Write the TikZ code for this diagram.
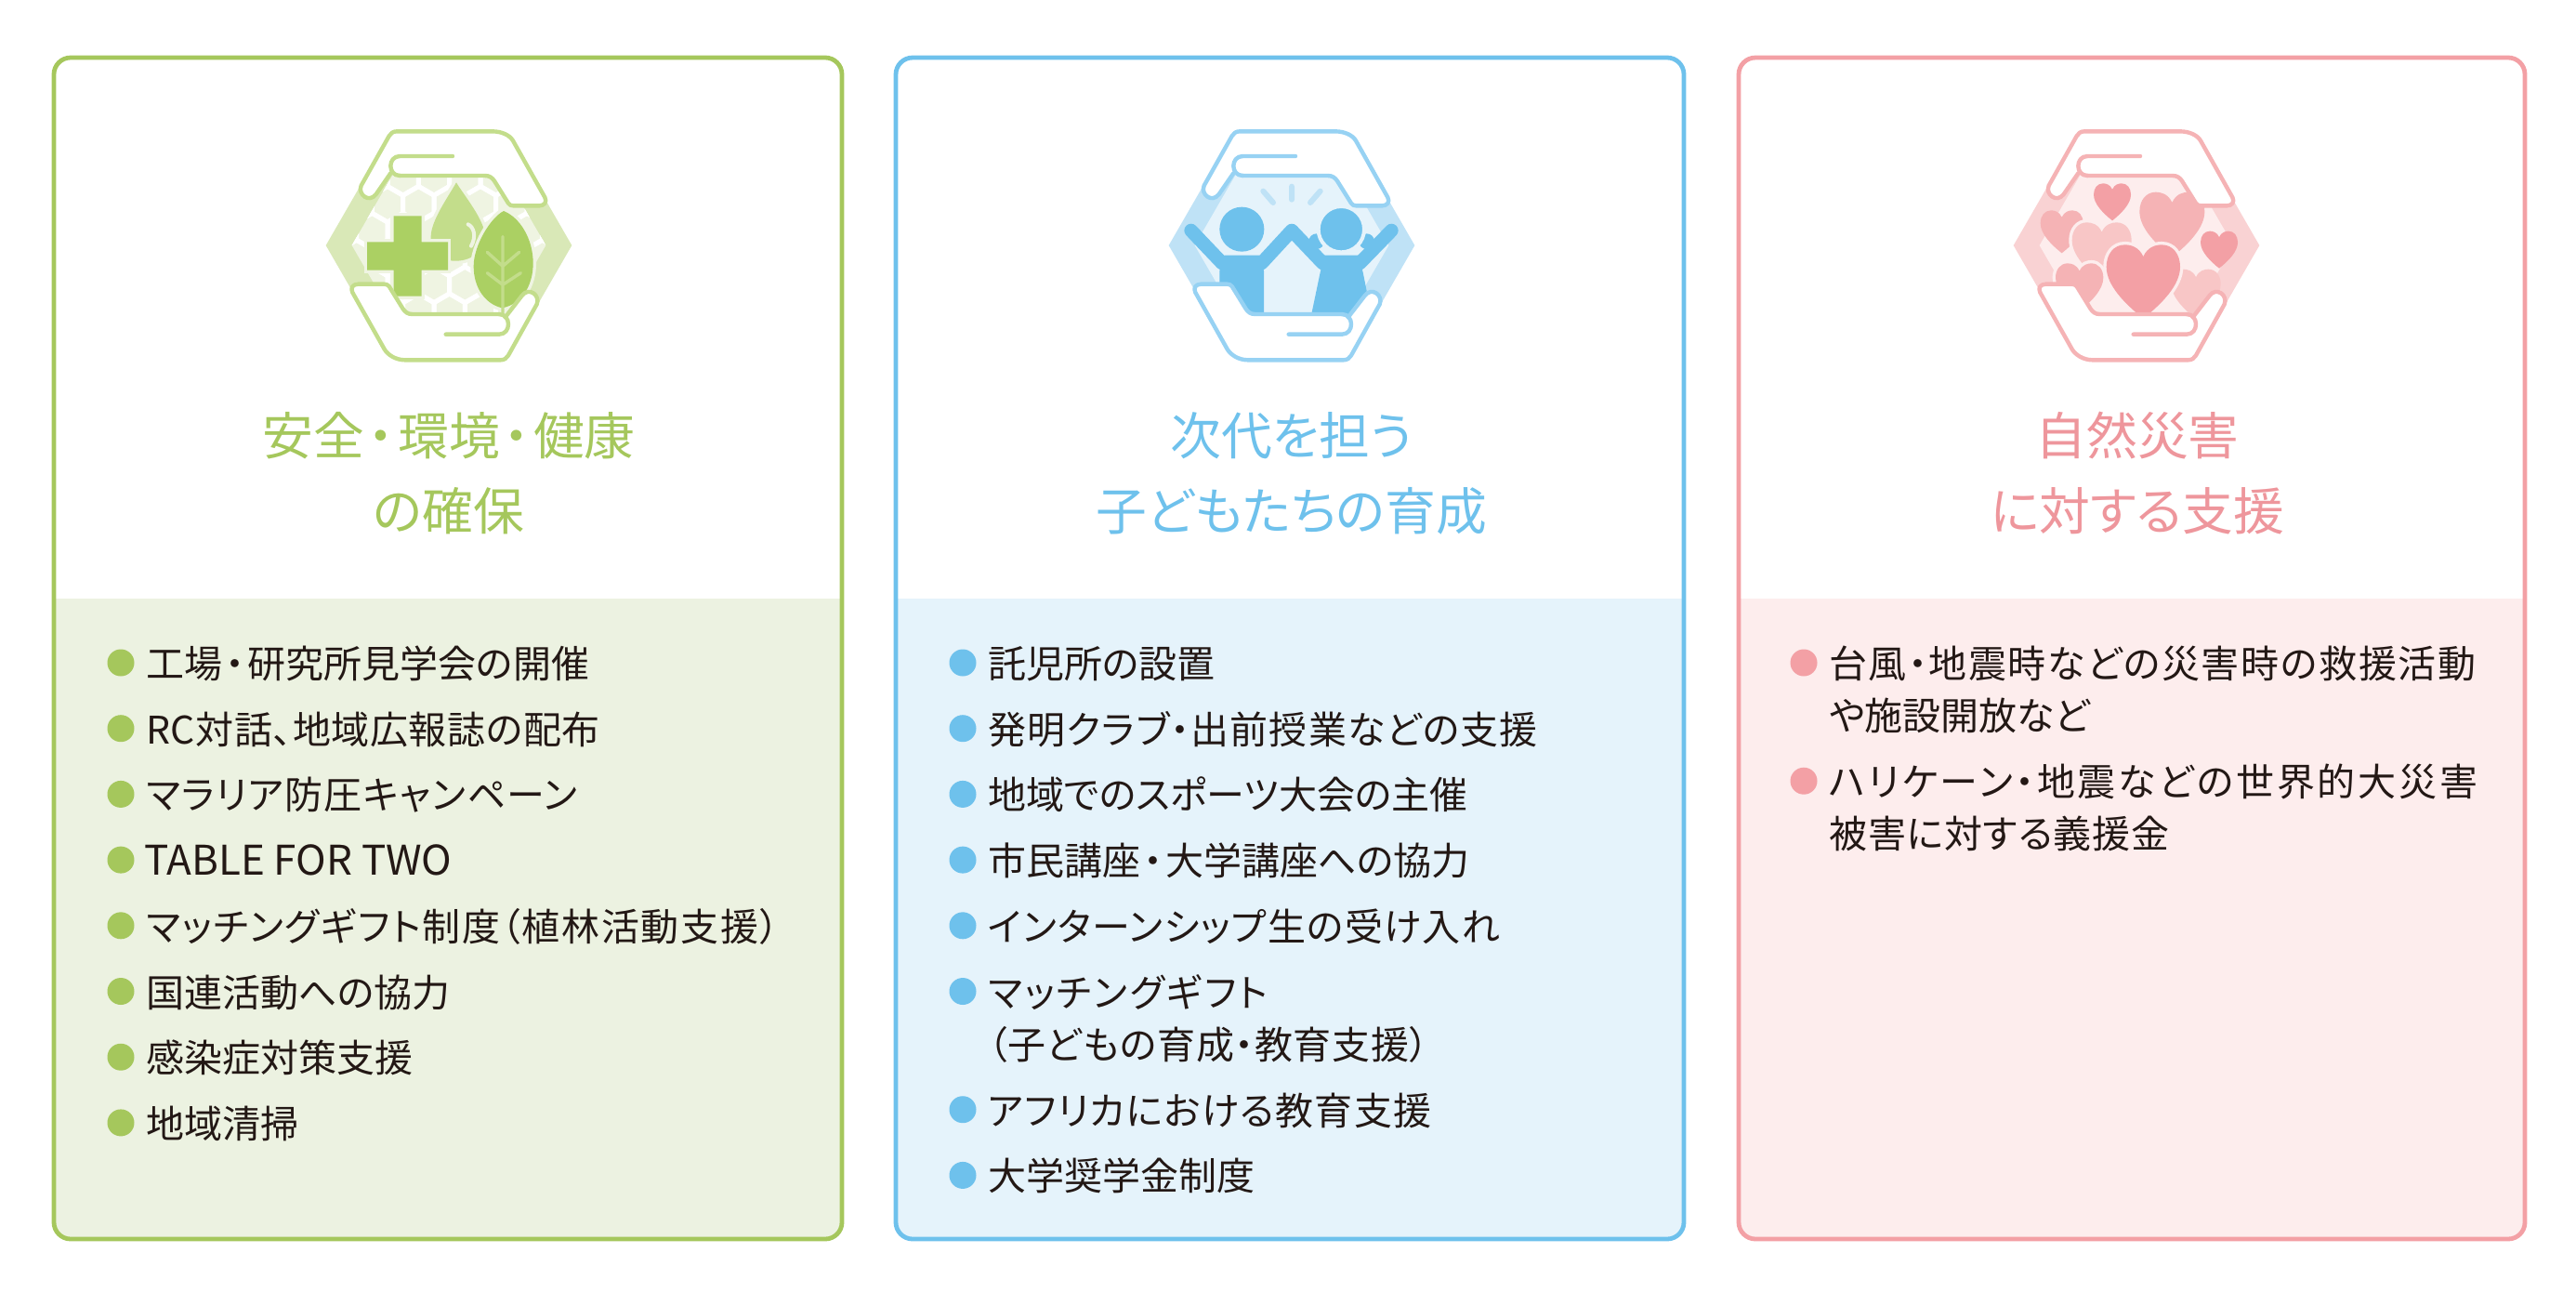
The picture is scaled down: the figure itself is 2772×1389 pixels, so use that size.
\documentclass[tikz,border=0pt]{standalone}
\usepackage{fontspec}
\setmainfont[RawFeature=+palt]{Noto Sans CJK JP}
\usetikzlibrary{positioning}
\definecolor{greenline}{HTML}{A5C75C}
\definecolor{greenpanel}{HTML}{ECF2E1}
\definecolor{greenicon}{HTML}{C3DD8B}
\definecolor{greenhex}{HTML}{D9E8B7}
\definecolor{greeninner}{HTML}{EFF4E2}
\definecolor{greenleaf}{HTML}{ABD063}
\definecolor{blueline}{HTML}{6EC1EC}
\definecolor{bluepanel}{HTML}{E5F3FB}
\definecolor{blueicon}{HTML}{97D2F3}
\definecolor{bluehex}{HTML}{BFE2F6}
\definecolor{blueinner}{HTML}{E5F3FB}
\definecolor{pinkline}{HTML}{F3A0A5}
\definecolor{pinkpanel}{HTML}{FDEDED}
\definecolor{pinkicon}{HTML}{F5B3B5}
\definecolor{pinkhex}{HTML}{F9D2D3}
\definecolor{pinkinner}{HTML}{FDEDED}
\definecolor{pinklight}{HTML}{F8C6C6}
\definecolor{pinktitle}{HTML}{EE969C}
\definecolor{itemtext}{HTML}{231815}
\newcommand{\heartpath}{(0,-.68) .. controls (-.12,-.95) and (-.35,-1) .. (-.5,-1)
  .. controls (-.8,-1) and (-1,-.75) .. (-1,-.4)
  .. controls (-1,.1) and (-.5,.6) .. (0,1)
  .. controls (.5,.6) and (1,.1) .. (1,-.4)
  .. controls (1,-.75) and (.8,-1) .. (.5,-1)
  .. controls (.35,-1) and (.12,-.95) .. (0,-.68) -- cycle}
\newcommand{\ls}[1]{\addfontfeature{LetterSpace=#1}}
\newcommand{\nakaten}[1]{\hspace{#1}・\hspace{#1}}
\tikzset{
  x=.5pt,
  y=-.5pt,
  node distance=35.35pt,
  panelline/.style={line width=2.4pt, rounded corners=9pt},
  title/.style={align=center, font=\fontsize{27.4}{40.5}\selectfont},
  item/.style={text=itemtext, font=\fontsize{20.5}{20.5}\selectfont, text height=19pt, text depth=2.5pt, inner sep=0pt, anchor=west},
  dot/.style={circle, inner sep=0pt, minimum size=14.5pt},
  handline/.style={line width=2.2pt, line cap=round, line join=round},
  halo/.style={preaction={draw=#1, line width=3.4pt}},
  pics/hexback/.style={code={
    \fill[#1hex] (-397,0) -- (-199,-343) -- (199,-343) -- (397,0) -- (199,343) -- (-199,343) -- cycle;
    \fill[#1inner] (-313,0) -- (-156,-271) -- (156,-271) -- (313,0) -- (156,271) -- (-156,271) -- cycle;
  }},
  pics/handframe/.style={code={
    \draw[handline, draw=#1icon, fill=white] (-158,-225) -- (117,-225) .. controls (132,-225) and (140,-218) .. (147,-208)
      -- (192,-136) .. controls (197,-130) and (200,-128) .. (208,-128) -- (292,-128) .. controls (308,-128) and (318,-140) .. (310,-155)
      -- (207,-338) .. controls (197,-355) and (172,-368) .. (140,-368) -- (-168,-368) .. controls (-180,-368) and (-188,-362) .. (-193,-353)
      -- (-283,-193) .. controls (-295,-165) and (-258,-135) .. (-235,-165) -- (-188,-233);
    \draw[handline, draw=#1icon] (12,-288) -- (-158,-288) .. controls (-198,-288) and (-198,-225) .. (-158,-225);
    \draw[handline, draw=#1icon, fill=white] (162,222) -- (-118,222) .. controls (-133,222) and (-141,215) .. (-148,205)
      -- (-193,132) .. controls (-198,127) and (-201,125) .. (-209,125) -- (-293,125) .. controls (-309,125) and (-319,137) .. (-311,152)
      -- (-208,335) .. controls (-198,352) and (-173,370) .. (-141,370) -- (167,370) .. controls (179,370) and (187,364) .. (192,355)
      -- (284,190) .. controls (296,162) and (259,132) .. (236,162) -- (182,232);
    \draw[handline, draw=#1icon] (-10,287) -- (162,287) .. controls (202,287) and (202,222) .. (162,222);
  }},
  pics/healthicon/.style={code={
    % honeycomb behind the cross, drop and leaf
    \begin{scope}
      \clip (-313,0) -- (-156,-271) -- (156,-271) -- (313,0) -- (156,271) -- (-156,271) -- cycle;
      \foreach \row in {-4,...,3} {
        \foreach \col in {-5,...,4} {
          \pgfmathsetmacro{\cx}{52+100*\col+50*mod(abs(\row),2)}
          \pgfmathsetmacro{\cy}{127+86.6*\row}
          \draw[white, line width=2.5pt, shift={(\cx,\cy)}] (0,-58) -- (50,-29) -- (50,29) -- (0,58) -- (-50,29) -- (-50,-29) -- cycle;
        }
      }
    \end{scope}
    \fill[greenicon, halo=greeninner] (24,-203) .. controls (0,-160) and (-58,-80) .. (-58,-28)
      .. controls (-58,30) and (-25,50) .. (22,50) .. controls (80,50) and (117,10) .. (117,-28) .. controls (117,-80) and (50,-160) .. (24,-203) -- cycle;
    \draw[greeninner, line width=2pt, line cap=round] (62,-68) .. controls (80,-60) and (90,-30) .. (72,2);
    \fill[greenleaf, halo=greeninner] (-178,-95) -- (-88,-95) -- (-88,-11) -- (-3,-11) -- (-3,80) -- (-88,80) -- (-88,164) -- (-178,164) -- (-178,80) -- (-264,80) -- (-264,-11) -- (-178,-11) -- cycle;
    \fill[greenleaf, halo=greeninner] (177,-111) .. controls (135,-90) and (80,0) .. (80,67)
      .. controls (80,140) and (120,190) .. (172,202) .. controls (235,190) and (272,130) .. (272,57) .. controls (272,-20) and (230,-90) .. (177,-111) -- cycle;
    \draw[greenicon, line width=1.7pt, line cap=round, line join=round] (174,-28) -- (174,217)
      (124,22) -- (174,67) -- (227,22)
      (124,89) -- (174,127) -- (232,89);
  }},
  pics/childicon/.style={code={
    \draw[bluehex, line width=3pt, line cap=round] (0,-190) -- (0,-148) (-92,-175) -- (-60,-138) (92,-175) -- (60,-138);
    % arms
    \draw[blueline, line width=7.3pt, line cap=round, line join=round] (-325,-48) -- (-225,57);
    \draw[blueline, line width=7.3pt, line cap=round, line join=round] (-97,57) -- (0,-48) -- (100,57);
    \draw[blueline, line width=7.3pt, line cap=round, line join=round] (322,-48) -- (220,57);
    % bodies
    \fill[blueline] (-218,32) -- (-105,32) -- (-90,82) -- (-90,240) -- (-233,240) -- (-233,82) -- cycle;
    \fill[blueline] (105,32) -- (215,32) -- (230,87) -- (242,147) -- (242,240) -- (60,240) -- (92,87) -- cycle;
    \fill[blueline] (-161,-52) circle (72);
    \fill[blueline] (80,-13) circle (25) (242,-13) circle (25);
    \draw[blueinner, line width=2pt, fill=blueline] (160,-52) circle (74);
  }},
  pics/hearticon/.style={code={
    \fill[pinkicon, shift={(-241,-44)}, scale=69] \heartpath;
    \fill[pinklight, halo=pinkinner, shift={(-112,22)}, scale=96] \heartpath;
    \fill[pinkicon, halo=pinkinner, shift={(-184,135)}, scale=77] \heartpath;
    \fill[pinkicon, shift={(115,-67)}, scale=105] \heartpath;
    \fill[pinkline, shift={(-78,-140)}, scale=60] \heartpath;
    \fill[pinkline, shift={(267,14)}, scale=60] \heartpath;
    \fill[pinklight, shift={(192,157)}, scale=80] \heartpath;
    \fill[pinkline, halo=pinkinner, shift={(22,117)}, scale=119] \heartpath;
  }},
}

\begin{document}
\begin{tikzpicture}
  \useasboundingbox (0,0) rectangle (2772,1389);

  \fill[greenpanel] (58,644) -- (906,644) [rounded corners=9pt] -- (906,1333) -- (58,1333) [sharp corners] -- cycle;
  \fill[bluepanel] (964,644) -- (1812,644) [rounded corners=9pt] -- (1812,1333) -- (964,1333) [sharp corners] -- cycle;
  \fill[pinkpanel] (1871,644) -- (2717,644) [rounded corners=9pt] -- (2717,1333) -- (1871,1333) [sharp corners] -- cycle;
  \draw[panelline, greenline] (58,62) rectangle (906,1333);
  \draw[panelline, blueline] (964,62) rectangle (1812,1333);
  \draw[panelline, pinkline] (1871,62) rectangle (2717,1333);

  \begin{scope}[shift={(483,264)}, x=.16667pt, y=-.16667pt]
    \pic {hexback=green};
    \pic {healthicon};
    \pic {handframe=green};
  \end{scope}
  \begin{scope}[shift={(1390,264)}, x=.16667pt, y=-.16667pt]
    \pic {hexback=blue};
    \pic {childicon};
    \pic {handframe=blue};
  \end{scope}
  \begin{scope}[shift={(2299,264)}, x=.16667pt, y=-.16667pt]
    \pic {hexback=pink};
    \pic {hearticon};
    \pic {handframe=pink};
  \end{scope}

  \node[title, text=greenline] (gtitle) at (483,509) {安全\nakaten{2.2pt}環境\nakaten{2.2pt}健康\\の確保};
  \node[title, text=blueline] (btitle) at (1390,509) {次代を担う\\子どもたちの育成};
  \node[title, text=pinktitle] (ptitle) at (2300,509) {自然災害\\に対する支援};

  % safety, environment, health
  \node[dot, fill=greenline] (g1) at (130,713) {};
  \node[dot, fill=greenline, below of=g1] (g2) {};
  \node[dot, fill=greenline, below of=g2] (g3) {};
  \node[dot, fill=greenline, below of=g3] (g4) {};
  \node[dot, fill=greenline, below of=g4] (g5) {};
  \node[dot, fill=greenline, below of=g5] (g6) {};
  \node[dot, fill=greenline, below of=g6] (g7) {};
  \node[dot, fill=greenline, below of=g7] (g8) {};
  \node[item, right=6pt of g1] (gt1) {工場\nakaten{1.7pt}研究所見学会の開催};
  \node[item, right=6pt of g2] (gt2) {\ls{1.5}RC対話、地域広報誌の配布};
  \node[item, right=6pt of g3] (gt3) {\ls{3}マラリア防圧キャンペーン};
  \node[item, right=5pt of g4, font=\fontsize{22}{22}\selectfont] (gt4) {TABLE FOR TWO};
  \node[item, right=6pt of g5] (gt5) {\ls{4}マッチングギフト制度（植林活動支援）};
  \node[item, right=6pt of g6] (gt6) {国連活動への協力};
  \node[item, right=6pt of g7] (gt7) {感染症対策支援};
  \node[item, right=6pt of g8] (gt8) {地域清掃};

  % next generation
  \node[dot, fill=blueline] (b1) at (1036,713) {};
  \node[dot, fill=blueline, below of=b1] (b2) {};
  \node[dot, fill=blueline, below of=b2] (b3) {};
  \node[dot, fill=blueline, below of=b3] (b4) {};
  \node[dot, fill=blueline, below of=b4] (b5) {};
  \node[dot, fill=blueline, below of=b5] (b6) {};
  \node[dot, fill=blueline, below of=b6, node distance=63.6pt] (b7) {};
  \node[dot, fill=blueline, below of=b7] (b8) {};
  \node[item, right=6pt of b1] (bt1) {託児所の設置};
  \node[item, right=6pt of b2] (bt2) {\ls{3}発明クラブ・出前授業などの支援};
  \node[item, right=6pt of b3] (bt3) {地域でのスポーツ大会の主催};
  \node[item, right=6pt of b4] (bt4) {市民講座\nakaten{1.7pt}大学講座への協力};
  \node[item, right=6pt of b5] (bt5) {\ls{3}インターンシップ生の受け入れ};
  \node[item, right=6pt of b6] (bt6) {\ls{6}マッチングギフト};
  \node[item] (bt6b) at ([yshift=-28pt]bt6.west) {\ls{2}（子どもの育成・教育支援）};
  \node[item, right=6pt of b7] (bt7) {\ls{3}アフリカにおける教育支援};
  \node[item, right=6pt of b8] (bt8) {大学奨学金制度};

  % disaster relief
  \node[dot, fill=pinkline] (p1) at (1941,713) {};
  \node[dot, fill=pinkline, below of=p1, node distance=63.6pt] (p2) {};
  \node[item, right=6pt of p1] (pt1) {\ls{4}台風・地震時などの災害時の救援活動};
  \node[item] (pt1b) at ([yshift=-28pt]pt1.west) {や施設開放など};
  \node[item, right=6pt of p2] (pt2) {\ls{7}ハリケーン・地震などの世界的大災害};
  \node[item] (pt2b) at ([yshift=-28pt]pt2.west) {\ls{2}被害に対する義援金};
\end{tikzpicture}
\end{document}
